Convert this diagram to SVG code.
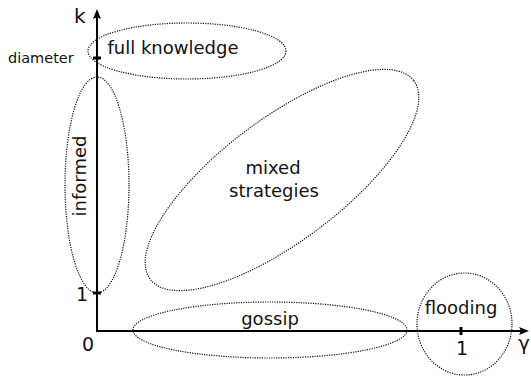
<svg xmlns="http://www.w3.org/2000/svg" width="531" height="376" viewBox="0 0 531 376">
<style>
  text { font-family: "DejaVu Sans", "Liberation Sans", sans-serif; fill: #111; }
  .lbl { font-size: 18px; }
  .num { font-size: 19px; }
  .sym { font-size: 20px; }
  .mid { text-anchor: middle; }
  .region { fill: none; stroke: #111; stroke-width: 1.2; stroke-dasharray: 1.2 1.2; }
  .axis { fill: none; stroke: #000; stroke-width: 2; }
  .tick { fill: none; stroke: #000; stroke-width: 3; }
</style>
<defs>
  <marker id="arr" markerUnits="userSpaceOnUse" markerWidth="12" markerHeight="10" refX="2" refY="5" orient="auto">
    <path d="M0,1 L10,5 L0,9 Q3,5 0,1 Z" fill="#000"/>
  </marker>
</defs>
<g id="connectors">
  <line class="axis" x1="97" y1="331" x2="97" y2="17" marker-end="url(#arr)"/>
  <line class="axis" x1="96" y1="331" x2="521" y2="331" marker-end="url(#arr)"/>
  <line class="tick" x1="93" y1="58" x2="101" y2="58"/>
  <line class="tick" x1="93" y1="293" x2="101" y2="293"/>
  <line class="tick" x1="461" y1="327" x2="461" y2="335"/>
</g>
<g id="axis-labels">
  <text class="sym" x="74" y="23">k</text>
  <text x="8" y="63" font-size="14.5">diameter</text>
  <text class="num mid" x="82" y="301">1</text>
  <text class="num mid" x="88" y="351">0</text>
  <text class="num mid" x="462" y="355">1</text>
  <text class="sym" x="518" y="350">γ</text>
</g>
<g id="full-knowledge">
  <ellipse class="region" cx="187" cy="51" rx="99" ry="28"/>
  <text class="lbl mid" x="173" y="54">full knowledge</text>
</g>
<g id="informed">
  <ellipse class="region" cx="97" cy="185" rx="32" ry="108"/>
  <text class="lbl mid" transform="translate(86,176) rotate(-90)">informed</text>
</g>
<g id="mixed-strategies">
  <ellipse class="region" cx="282" cy="180" rx="165" ry="61" transform="rotate(-37 282 180)" stroke-dasharray="1.6 1.6"/>
  <text class="lbl mid" x="273" y="174">mixed</text>
  <text class="lbl mid" x="274" y="197">strategies</text>
</g>
<g id="gossip">
  <ellipse class="region" cx="270" cy="330" rx="137" ry="28"/>
  <text class="lbl mid" x="270" y="325">gossip</text>
</g>
<g id="flooding">
  <ellipse class="region" cx="464.5" cy="324" rx="47.5" ry="51"/>
  <text class="lbl mid" x="461" y="314">flooding</text>
</g>
</svg>
